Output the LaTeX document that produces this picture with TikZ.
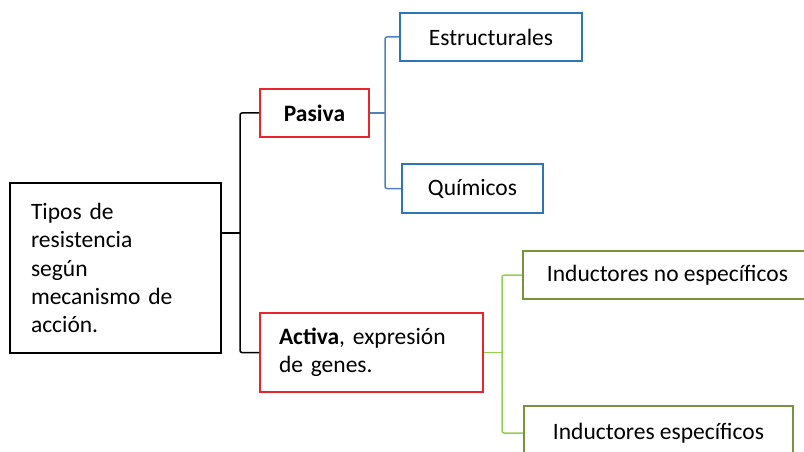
\documentclass[tikz,border=0pt]{standalone}
\usepackage{fontspec}
\setmainfont{Carlito}
\usetikzlibrary{calc}

\definecolor{boxred}{RGB}{230,38,44}
\definecolor{boxblue}{RGB}{46,117,182}
\definecolor{lineblue}{RGB}{79,129,189}
\definecolor{boxolive}{RGB}{119,147,60}
\definecolor{linegreen}{RGB}{146,208,80}

\begin{document}
\begin{tikzpicture}
	[x=1pt,y=-1pt,
	 box/.style={draw,line width=1.6pt,inner sep=0pt,font=\fontsize{23.5}{28.2}\selectfont},
	 link/.style={line width=1.5pt,rounded corners=2pt}]
	\clip (0,0) rectangle (804,452);
	\node[box, text width=169pt, inner xsep=21pt, minimum height=170pt, align=left] (n1) at (115.5,268) {Tipos de\\resistencia\\según\\mecanismo de\\acción.};
	\node[box, boxred, text=black, minimum width=109pt, minimum height=48pt] (n2) at (314.5,113) {\textbf{Pasiva}};
	\node[box, boxred, text=black, text width=185pt, inner xsep=19pt, minimum height=79pt, align=left] (n3) at (371.5,352.5) {\textbf{Activa}, expresión\\de genes.};
	\node[box, boxblue, text=black, minimum width=182pt, minimum height=48pt] (n4) at (491,37) {Estructurales};
	\node[box, boxblue, text=black, minimum width=141pt, minimum height=49pt] (n5) at (472.5,188.5) {Químicos};
	\node[box, boxolive, text=black, minimum width=289pt, minimum height=48pt] (n6) at (667.5,275) {Inductores no específicos};
	\node[box, boxolive, text=black, minimum width=269pt, minimum height=54pt] (n7) at (658.5,433) {Inductores específicos};

	\coordinate (b1) at (240,233);
	\coordinate (b2) at (385,113);
	\coordinate (b3) at (502,352.5);

	\draw[link] (n1.east |- b1) -- (b1);
	\draw[link] (n2.west) -| (b1) |- (n3.west);
	\draw[link, lineblue] (n2.east) -- (n2.east -| b2);
	\draw[link, lineblue] (n4.west) -| (b2) |- (n5.west);
	\draw[link, linegreen] (n3.east |- b3) -- (b3);
	\draw[link, linegreen] (n6.west) -| (b3) |- (n7.west);
\end{tikzpicture}
\end{document}
